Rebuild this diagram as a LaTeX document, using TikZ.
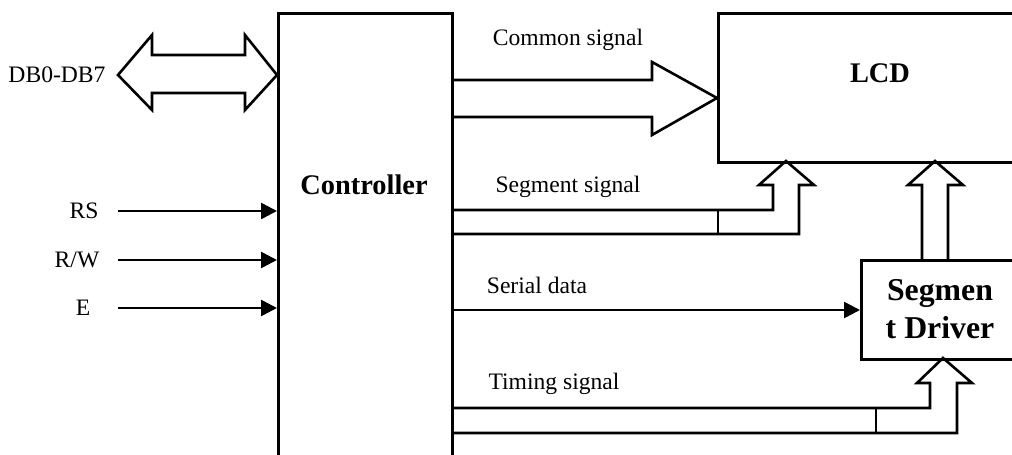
\documentclass[tikz,border=0pt]{standalone}
\usepackage{fontspec}
\setmainfont{Liberation Serif}
\usetikzlibrary{arrows.meta}
\tikzset{
  wire/.style={line width=1.3pt},
  sig/.style={wire,-{Triangle[length=8pt,width=8pt]}},
  box/.style={draw,wire,anchor=north west,inner sep=0pt},
  lbl/.style={font=\fontsize{11.8}{14}\selectfont},
  blk/.style={font=\fontsize{14.2}{17}\selectfont\bfseries},
}
\begin{document}
\begin{tikzpicture}[x=0.5pt,y=-0.5pt]
\useasboundingbox (0,0) rectangle (1012,455);
\clip (0,0) rectangle (1012,455);
% boxes
\node[box,minimum width=87pt,minimum height=234pt] (ctrl) at (277,12) {};
\node[box,minimum width=161.5pt,minimum height=74.5pt] (lcd) at (717,12) {};
\node[box,minimum width=90pt,minimum height=49.5pt] (drv) at (860,259) {};
\node[blk] (ctrltxt) at (364,185) {Controller};
\node[blk] (lcdtxt) at (880,73) {LCD};
\node[blk,font=\fontsize{15.9}{19}\selectfont\bfseries,align=center] (drvtxt) at (940,309) {Segmen\\t Driver};
% data bus
\draw[wire] (118,75) -- (152,35) -- (152,55) -- (245,55) -- (245,35) -- (277,75)
  -- (245,110) -- (245,93) -- (152,93) -- (152,110) -- cycle;
\node[lbl] (db) at (57,75) {DB0-DB7};
% inputs
\node[lbl] (rs) at (84,211) {RS};
\node[lbl] (rw) at (77,260) {R/W};
\node[lbl] (en) at (83,308) {E};
\coordinate (rsin) at (118,211);
\coordinate (rwin) at (118,260);
\coordinate (enin) at (118,308);
\draw[sig] (rsin) -- (rsin -| ctrl.west);
\draw[sig] (rwin) -- (rwin -| ctrl.west);
\draw[sig] (enin) -- (enin -| ctrl.west);
% common signal
\draw[wire] (451,80) -- (652,80) -- (652,62) -- (717,98) -- (652,135) -- (652,117) -- (451,117);
\node[lbl] (comm) at (568,40) {Common signal};
% segment signal
\draw[wire] (451,210) -- (773,210) -- (773,185) -- (759,185) -- (786,161) -- (814,185)
  -- (799,185) -- (799,234) -- (451,234);
\draw[wire] (718,210) -- (718,234);
\node[lbl] (seg) at (568,187) {Segment signal};
% driver to lcd
\draw[wire] (922,259) -- (922,185) -- (908,185) -- (935,161) -- (963,185) -- (948,185) -- (948,259);
% serial data
\coordinate (ser) at (451,310);
\draw[sig] (ser) -- (ser -| drv.west);
\node[lbl] (serl) at (537,285) {Serial data};
% timing signal
\draw[wire] (451,408) -- (930,408) -- (930,383) -- (917,383) -- (943,358) -- (972,383)
  -- (957,383) -- (957,433) -- (451,433);
\draw[wire] (876,408) -- (876,433);
\node[lbl] (tim) at (554,384) {Timing signal};
\end{tikzpicture}
\end{document}
